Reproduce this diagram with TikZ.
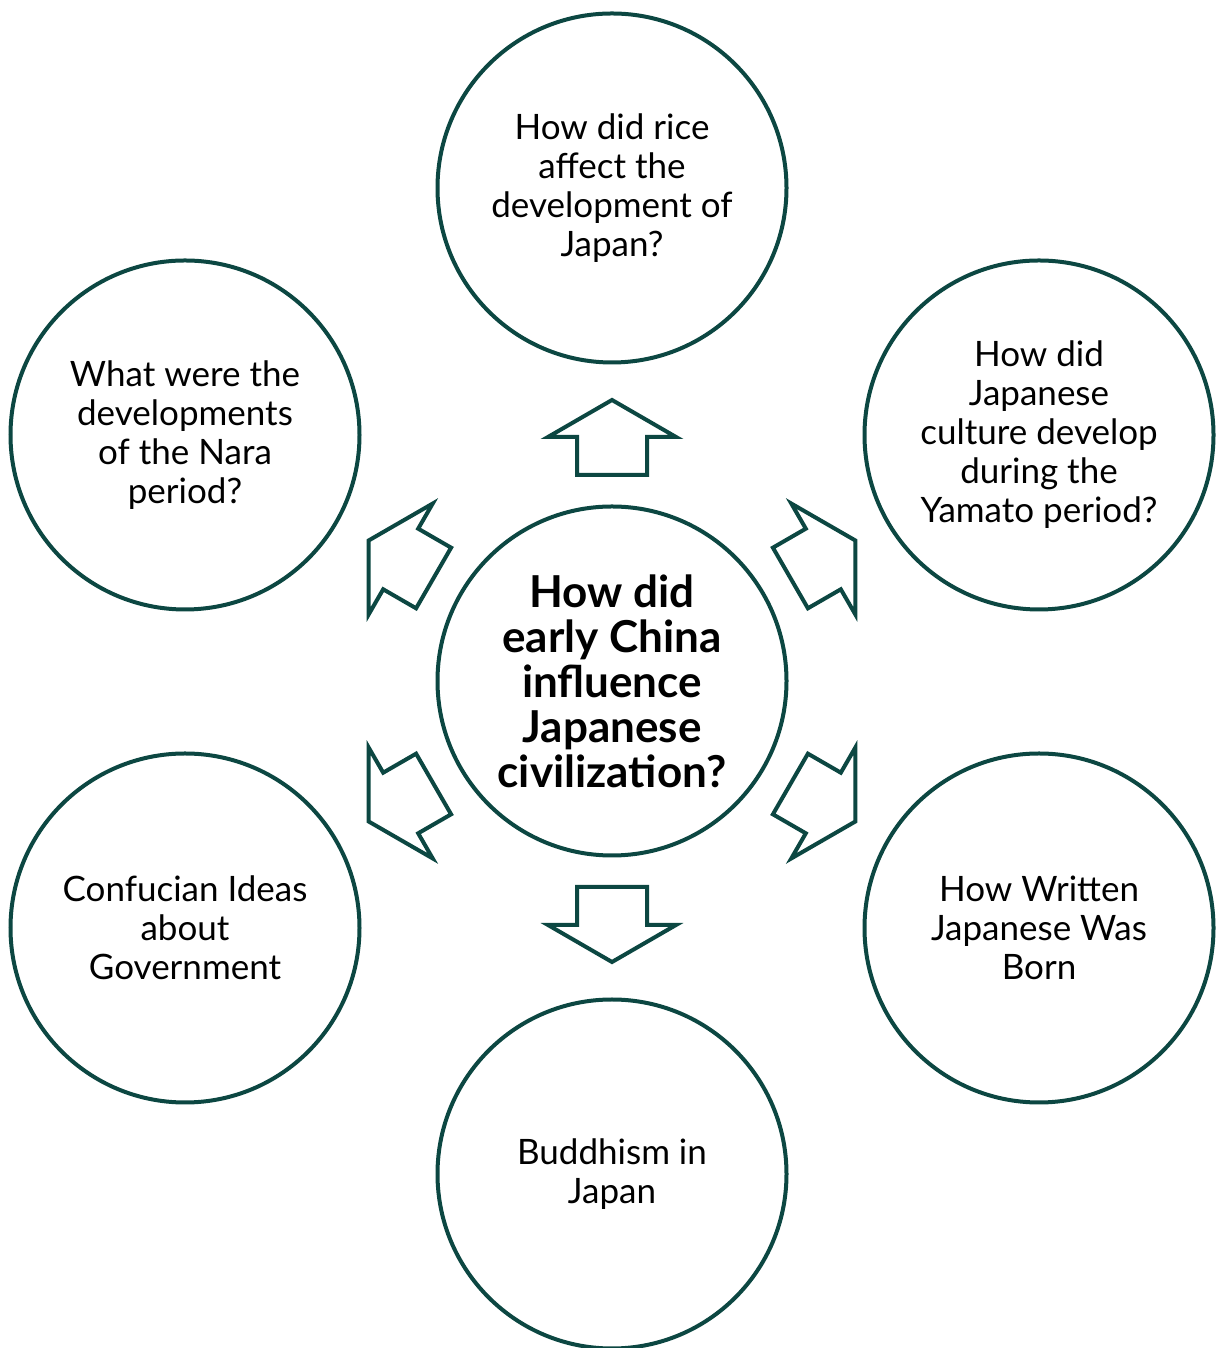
\documentclass[tikz,border=0pt]{standalone}
\usepackage{fontspec}
\setmainfont{Lato}
\definecolor{teal}{HTML}{0C4742}
\begin{document}
\begin{tikzpicture}[x=1pt,y=1pt,
  bubble/.style={circle,draw=teal,line width=4pt,minimum size=349pt,inner sep=0pt,align=center,
    font=\fontsize{35}{39}\selectfont},
  hub/.style={bubble,font=\bfseries\fontsize{44}{45}\selectfont},
  blockarrow/.style={draw=teal,line width=4pt,fill=white,line join=miter}]
\useasboundingbox (0,0) rectangle (1215,1348);
\node[hub] (c) at (612,667) {How did\\early China\\influence\\Japanese\\civilization?};
\node[bubble] (t) at (612,1160) {How did rice\\affect the\\development of\\Japan?};
\node[bubble] (tr) at (1039,913) {How did\\Japanese\\culture develop\\during the\\Yamato period?};
\node[bubble] (br) at (1039,420) {How Written\\Japanese Was\\Born};
\node[bubble] (b) at (612,174) {Buddhism in\\Japan};
\node[bubble] (bl) at (185,420) {Confucian Ideas\\about\\Government};
\node[bubble] (tl) at (185,913) {What were the\\developments\\of the Nara\\period?};
\foreach \a in {90,30,-30,-90,-150,150}{
  \begin{scope}[shift={(c.center)},rotate=\a]
    \draw[blockarrow] (206,-35) -- (244,-35) -- (244,-64) -- (281,0) -- (244,64) -- (244,35) -- (206,35) -- cycle;
  \end{scope}
}
\end{tikzpicture}
\end{document}
